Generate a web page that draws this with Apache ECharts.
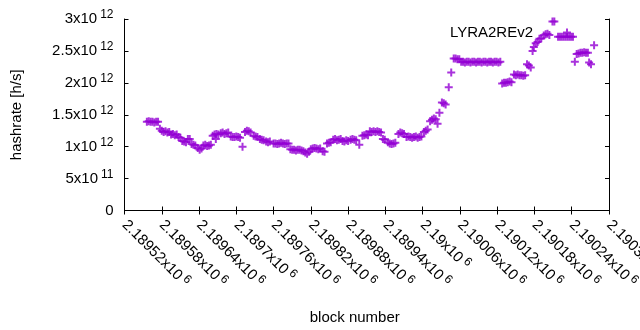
<!DOCTYPE html>
<html>
<head>
<meta charset="utf-8">
<script src="https://cdn.jsdelivr.net/npm/echarts@6/dist/echarts.min.js"></script>
<style>html,body{margin:0;padding:0;background:#fff;}#c{width:640px;height:330px;}</style>
</head>
<body>
<div id="c"></div>
<script>
const seriesName = 'LYRA2REv2';
const blocks = [
2189556,2189559,2189562,2189565,2189568,2189571,2189574,2189577,2189580,2189583,2189586,2189589,2189592,
2189595,2189598,2189601,2189604,2189607,2189610,2189613,2189616,2189619,2189622,2189625,2189628,2189631,2189634,
2189638,2189641,2189644,2189647,2189650,2189653,2189656,2189659,2189662,2189665,2189667,2189668,2189671,
2189675,2189678,2189681,2189684,2189687,2189691,2189694,2189697,2189700,2189703,2189706,2189710,
2189714,2189717,2189720,2189723,2189728,2189731,2189734,2189738,2189741,2189744,2189748,2189751,2189754,
2189760,2189763,2189766,2189769,2189772,2189775,2189778,2189781,2189784,
2189787,2189790,2189793,2189796,2189799,2189802,2189805,2189808,2189811,2189814,2189817,
2189820,2189823,2189826,2189829,2189832,2189835,2189839,2189842,2189846,2189849,2189852,
2189856,2189859,2189862,2189865,2189868,2189871,2189874,2189877,2189880,2189884,2189887,2189890,2189893,
2189898,2189903,2189906,2189909,2189912,2189915,2189918,2189921,2189924,2189927,2189930,2189933,
2189936,2189939,2189944,2189947,2189950,2189953,2189956,2189961,2189964,2189967,2189970,
2189974,2189977,2189980,2189983,2189986,2189989,2189992,2189995,2189998,
2190002,2190005,2190008,2190012,2190015,2190018,2190021,2190024,2190027,2190031,2190034,2190037,
2190042,2190046,2190050,2190053,2190056,2190059,
2190062,2190065,2190068,2190071,2190074,2190077,2190080,2190083,2190086,2190089,2190092,
2190095,2190098,2190101,2190104,2190107,2190110,2190113,2190116,2190119,2190122,2190125,
2190128,2190131,2190134,2190137,2190140,2190143,2190147,2190150,2190153,2190156,2190159,2190162,2190165,
2190168,2190171,2190174,2190177,2190179,2190182,2190185,2190188,2190191,2190195,2190198,2190201,2190204,
2190209,2190212,2190218,2190221,2190224,2190227,2190230,2190233,2190236,2190239,2190242,
2190245,2190248,2190251,2190254,2190257,2190260,2190263,2190266,2190268,2190271,2190276
];
const hashrate = [
1.39e12,1.40e12,1.39e12,1.39e12,1.38e12,1.39e12,1.39e12,1.28e12,1.25e12,1.23e12,1.24e12,1.22e12,1.23e12,
1.19e12,1.20e12,1.18e12,1.19e12,1.15e12,1.14e12,1.09e12,1.08e12,1.07e12,1.12e12,1.12e12,1.04e12,1.03e12,1.02e12,
0.98e12,0.95e12,0.97e12,1.02e12,1.03e12,1.01e12,1.02e12,1.03e12,1.17e12,1.19e12,1.12e12,1.20e12,1.19e12,
1.21e12,1.22e12,1.20e12,1.21e12,1.22e12,1.16e12,1.15e12,1.15e12,1.16e12,1.15e12,1.14e12,1.00e12,
1.23e12,1.25e12,1.24e12,1.22e12,1.17e12,1.16e12,1.15e12,1.12e12,1.11e12,1.10e12,1.08e12,1.07e12,1.08e12,
1.05e12,1.05e12,1.04e12,1.05e12,1.06e12,1.05e12,1.04e12,1.05e12,1.05e12,
0.96e12,0.95e12,0.95e12,0.94e12,0.95e12,0.95e12,0.94e12,0.93e12,0.91e12,0.89e12,0.92e12,
0.96e12,0.97e12,0.98e12,0.97e12,0.96e12,0.97e12,0.93e12,0.92e12,1.05e12,1.06e12,1.07e12,
1.11e12,1.12e12,1.10e12,1.11e12,1.12e12,1.09e12,1.08e12,1.10e12,1.09e12,1.11e12,1.12e12,1.11e12,1.10e12,
1.03e12,1.17e12,1.18e12,1.19e12,1.18e12,1.24e12,1.23e12,1.24e12,1.23e12,1.24e12,1.23e12,1.22e12,
1.12e12,1.11e12,1.07e12,1.05e12,1.04e12,1.05e12,1.06e12,1.20e12,1.22e12,1.21e12,1.20e12,
1.15e12,1.16e12,1.15e12,1.14e12,1.15e12,1.16e12,1.14e12,1.15e12,1.16e12,
1.23e12,1.25e12,1.27e12,1.40e12,1.42e12,1.44e12,1.43e12,1.36e12,1.53e12,1.69e12,1.68e12,1.66e12,
1.93e12,2.16e12,2.38e12,2.38e12,2.37e12,2.37e12,
2.33e12,2.33e12,2.32e12,2.33e12,2.33e12,2.32e12,2.33e12,2.33e12,2.32e12,2.33e12,2.33e12,
2.32e12,2.33e12,2.33e12,2.32e12,2.33e12,2.33e12,2.32e12,2.33e12,2.33e12,2.32e12,2.33e12,
1.99e12,2.00e12,2.00e12,2.01e12,2.02e12,2.01e12,2.13e12,2.12e12,2.13e12,2.12e12,2.12e12,2.11e12,2.12e12,
2.29e12,2.27e12,2.24e12,2.50e12,2.56e12,2.62e12,2.64e12,2.69e12,2.70e12,2.74e12,2.76e12,2.77e12,2.75e12,
2.96e12,2.96e12,2.72e12,2.72e12,2.72e12,2.72e12,2.72e12,2.72e12,2.72e12,2.72e12,2.72e12,
2.33e12,2.45e12,2.46e12,2.47e12,2.47e12,2.48e12,2.47e12,2.47e12,2.32e12,2.29e12,2.59e12
];
const xTickValues = [2189520,2189580,2189640,2189700,2189760,2189820,2189880,2189940,2190000,2190060,2190120,2190180,2190240,2190300];
const xTickMantissas = ['2.18952','2.18958','2.18964','2.1897','2.18976','2.18982','2.18988','2.18994','2.19','2.19006','2.19012','2.19018','2.19024','2.1903'];
const xTickExponents = ['6','6','6','6','6','6','6','6','6','6','6','6','6','6'];
const yTickValues = [0,5e11,1e12,1.5e12,2e12,2.5e12,3e12];
const yTickMantissas = ['0','5','1','1.5','2','2.5','3'];
const yTickExponents = ['','11','12','12','12','12','12'];

const plusPath = 'path://M3,0h2v3h3v2h-3v3h-2v-3h-3v-2h3z';
const FONT = '"Liberation Sans", Arial, sans-serif';
const rich = {
  b: {fontSize: 15, fontFamily: FONT, color: '#000', lineHeight: 20},
  s: {fontSize: 12, fontFamily: FONT, color: '#000', lineHeight: 12, verticalAlign: 'top', padding: [0,0,0,3]}
};
function fmt(mants, exps, vals) {
  return function (v) {
    let i = -1;
    for (let k = 0; k < vals.length; k++) if (Math.abs(vals[k] - v) < 1e-6 * Math.max(1, Math.abs(v))) i = k;
    if (i < 0) return '';
    if (!exps[i]) return '{b|' + mants[i] + '}';
    return '{b|' + mants[i] + 'x10}{s|' + exps[i] + '}';
  };
}
const pts = blocks.map((b, i) => [b, hashrate[i]]);
const xmin = xTickValues[0], xmax = xTickValues[xTickValues.length - 1];
const ymin = yTickValues[0], ymax = yTickValues[yTickValues.length - 1];
const chart = echarts.init(document.getElementById('c'), null, {renderer: 'canvas'});
const lineStyle = {color: '#000', width: 1};
chart.setOption({
  animation: false,
  backgroundColor: '#fff',
  grid: {left: 124.5, right: 31, top: 19, bottom: 119.5, containLabel: false, outerBoundsMode: 'none'},
  legend: {
    data: [seriesName], right: 64, top: 20, align: 'right', icon: plusPath,
    itemWidth: 58, itemHeight: 8, padding: 5,
    textStyle: {fontSize: 15, fontFamily: FONT, color: '#000'}, selectedMode: false
  },
  xAxis: [{
    type: 'value', min: xmin, max: xmax, interval: 60, position: 'bottom',
    name: 'block number', nameLocation: 'middle', nameGap: 100,
    nameTextStyle: {fontSize: 15, fontFamily: FONT, color: '#000', padding: [0, 24, 0, 0]},
    axisLine: {show: true, lineStyle}, splitLine: {show: false},
    axisTick: {show: true, inside: true, length: 4, lineStyle},
    axisLabel: {rotate: -45, margin: 12, formatter: fmt(xTickMantissas, xTickExponents, xTickValues), rich, showMaxLabel: true, showMinLabel: true, hideOverlap: false}
  }, {
    type: 'value', min: xmin, max: xmax, interval: 60, position: 'top',
    axisLine: {show: true, lineStyle}, splitLine: {show: false},
    axisTick: {show: true, inside: true, length: 4, lineStyle}, axisLabel: {show: false}
  }],
  yAxis: [{
    type: 'value', min: ymin, max: ymax, interval: 5e11, position: 'left',
    name: 'hashrate [h/s]', nameLocation: 'middle', nameGap: 100,
    nameTextStyle: {fontSize: 15, fontFamily: FONT, color: '#000'},
    axisLine: {show: true, lineStyle}, splitLine: {show: false},
    axisTick: {show: true, inside: true, length: 4, lineStyle},
    axisLabel: {margin: 11, formatter: fmt(yTickMantissas, yTickExponents, yTickValues), rich}
  }, {
    type: 'value', min: ymin, max: ymax, interval: 5e11, position: 'right',
    axisLine: {show: true, lineStyle}, splitLine: {show: false},
    axisTick: {show: true, inside: true, length: 4, lineStyle}, axisLabel: {show: false}
  }],
  series: [{
    name: seriesName, type: 'scatter', data: pts, symbol: plusPath, symbolSize: 8,
    itemStyle: {color: '#9400D3'}, emphasis: {disabled: true}, silent: true
  }]
});
</script>
</body>
</html>
